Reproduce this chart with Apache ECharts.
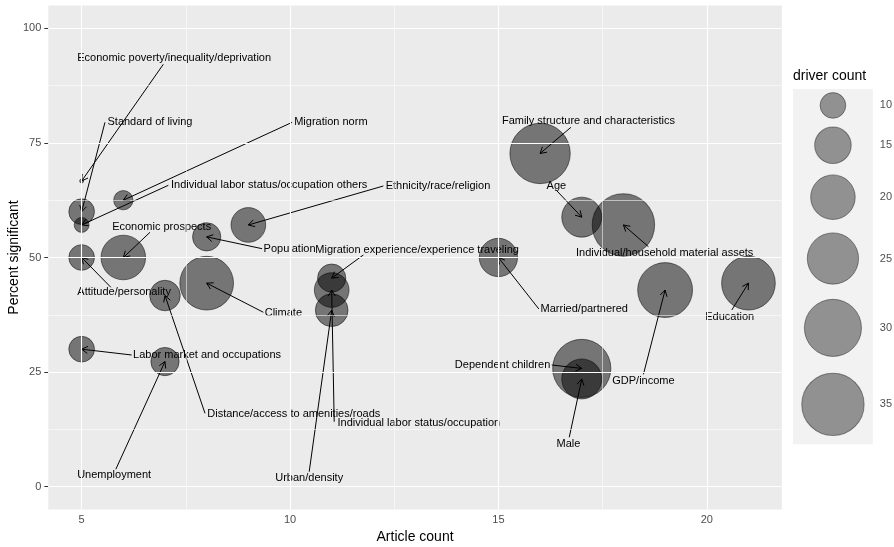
<!DOCTYPE html>
<html>
<head>
<meta charset="utf-8">
<script src="https://cdn.jsdelivr.net/npm/echarts@6.0.0/dist/echarts.min.js"></script>
<style>
  html, body { margin: 0; padding: 0; background: #ffffff; }
  #chart { width: 894px; height: 547px; }
</style>
</head>
<body>
<div id="chart"></div>
<script>
// Migration drivers: how many articles studied each driver, the share of
// findings that were significant, and how many driver estimates there were.
const drivers = [
  'Economic poverty/inequality/deprivation', 'Standard of living',
  'Individual labor status/occupation others', 'Migration norm',
  'Economic prospects', 'Population', 'Ethnicity/race/religion',
  'Attitude/personality', 'Climate', 'Distance/access to amenities/roads',
  'Labor market and occupations', 'Unemployment',
  'Migration experience/experience traveling',
  'Individual labor status/occupation', 'Urban/density', 'Married/partnered',
  'Family structure and characteristics', 'Age', 'Dependent children', 'Male',
  'Individual/household material assets', 'GDP/income', 'Education'
];
const articleCount = [5, 5, 5, 6, 6, 8, 9, 5, 8, 7, 5, 7, 11, 11, 11, 15, 16, 17, 17, 17, 18, 19, 21];
const percentSignificant = [66.7, 60.0, 57.1, 62.5, 50.0, 54.5, 57.1, 50.0, 44.4, 41.7, 30.0, 27.3,
  45.5, 42.9, 38.5, 50.0, 72.7, 58.8, 25.8, 23.5, 57.1, 42.9, 44.4];
const driverCount = [6, 10, 7, 8, 20, 11, 14, 10, 27, 12, 10, 11, 11, 14, 13, 16, 33, 17, 31, 17, 35, 28, 27];

// Tick labels and legend breaks
const xTicks = [5, 10, 15, 20];
const yTicks = [0, 25, 50, 75, 100];
const legendBreaks = [10, 15, 20, 25, 30, 35];

// Repelled label placement, in data units: text centre and where the leader starts
const labelX = [7.22, 6.64, 9.50, 10.98, 6.92, 9.99, 13.55, 6.02, 9.84, 10.09, 8.01, 5.78,
  13.05, 13.09, 10.46, 17.06, 17.16, 16.39, 15.10, 16.68, 18.99, 18.48, 20.55];
const labelY = [93.46, 79.49, 65.75, 79.49, 56.59, 51.79, 65.60, 42.54, 37.83, 15.79, 28.73, 2.55,
  51.64, 13.96, 1.83, 38.77, 79.78, 65.60, 26.55, 9.25, 51.05, 23.12, 37.09];
const leaderX = [6.96, 5.56, 7.08, 10.05, 6.64, 9.33, 12.24, 5.70, 9.36, 7.96, 6.20, 5.82,
  11.76, 11.06, 10.46, 15.97, 16.74, 16.40, 16.28, 16.70, 18.60, 18.48, 20.60];
const leaderY = [92.15, 79.49, 65.75, 79.49, 55.50, 51.92, 65.60, 43.50, 38.05, 16.01, 28.73, 3.80,
  50.55, 14.18, 3.27, 38.77, 78.40, 64.57, 26.55, 10.78, 52.36, 24.52, 38.55];

const FONT = '"Liberation Sans", Arial, Helvetica, sans-serif';

// Bubble diameter: area-style scale over the observed driver-count range
const vMin = Math.min(...driverCount);
const vMax = Math.max(...driverCount);
function sizeOf(v) {
  return 4 + 58.4 * Math.sqrt(Math.max(0, (v - vMin) / (vMax - vMin)));
}

// Minor gridlines sit halfway between major ticks
const mids = a => a.slice(1).map((v, i) => (v + a[i]) / 2);
const xMinor = mids(xTicks);
const yMinor = mids(yTicks);

// Legend keys stack with heights proportional to their symbols
const keyH = legendBreaks.map(v => 1.28 * sizeOf(v));
const keyTotal = keyH.reduce((a, b) => a + b, 0);
const keyCenters = [];
keyH.reduce((acc, h) => { keyCenters.push(acc + h / 2); return acc + h; }, 0);
const keyW = 1.28 * sizeOf(Math.max(...legendBreaks));

const bubbleData = drivers.map((d, i) => ({ name: d, value: [articleCount[i], percentSignificant[i], driverCount[i]] }));
const leaderData = drivers.map((d, i) => [articleCount[i], percentSignificant[i], leaderX[i], leaderY[i]]);
const textData = drivers.map((d, i) => ({ name: d, value: [labelX[i], labelY[i]] }));

const majorLine = { color: '#ffffff', width: 1.1, type: 'solid' };
const minorLine = { color: '#ffffff', width: 0.55, type: 'solid' };
const gridLines = [].concat(
  xMinor.map(v => ({ xAxis: v, lineStyle: minorLine })),
  yMinor.map(v => ({ yAxis: v, lineStyle: minorLine })),
  xTicks.map(v => ({ xAxis: v, lineStyle: majorLine })),
  yTicks.map(v => ({ yAxis: v, lineStyle: majorLine }))
);

const chart = echarts.init(document.getElementById('chart'), null, { renderer: 'canvas' });

chart.setOption({
  animation: false,
  backgroundColor: '#ffffff',
  textStyle: { fontFamily: FONT },
  title: {
    text: 'driver count',
    left: 793, top: 69, padding: 0,
    textStyle: { fontFamily: FONT, fontSize: 14, fontWeight: 'normal', color: '#000000' }
  },
  grid: [
    { left: 48.3, top: 5.4, width: 733.5, height: 504.2, show: true,
      backgroundColor: '#ebebeb', borderWidth: 0, containLabel: false, outerBoundsMode: 'none' },
    { left: 793, top: 89, width: keyW, height: keyTotal, show: true,
      backgroundColor: '#f2f2f2', borderWidth: 0, containLabel: false, outerBoundsMode: 'none' }
  ],
  xAxis: [
    {
      type: 'value', gridIndex: 0, min: 4.2, max: 21.8,
      name: 'Article count', nameLocation: 'middle', nameGap: 19,
      nameTextStyle: { fontFamily: FONT, fontSize: 14, color: '#000000' },
      axisLine: { show: false },
      axisTick: { show: true, length: 4, customValues: xTicks, lineStyle: { color: '#333333', width: 1 } },
      axisLabel: { customValues: xTicks, margin: 5, fontFamily: FONT, fontSize: 11, color: '#4d4d4d' },
      splitLine: { show: false }, minorSplitLine: { show: false }
    },
    { type: 'value', gridIndex: 1, min: 0, max: 1, show: false }
  ],
  yAxis: [
    {
      type: 'value', gridIndex: 0, min: -5, max: 105,
      name: 'Percent significant', nameLocation: 'middle', nameGap: 27, nameRotate: 90,
      nameMoveOverlap: false,
      nameTextStyle: { fontFamily: FONT, fontSize: 14, color: '#000000' },
      axisLine: { show: false },
      axisTick: { show: true, length: 4, customValues: yTicks, lineStyle: { color: '#333333', width: 1 } },
      axisLabel: { customValues: yTicks, margin: 7, fontFamily: FONT, fontSize: 11, color: '#4d4d4d' },
      splitLine: { show: false }, minorSplitLine: { show: false }
    },
    { type: 'value', gridIndex: 1, min: 0, max: keyTotal, inverse: true, show: false }
  ],
  series: [
    {
      // panel gridlines
      type: 'scatter', xAxisIndex: 0, yAxisIndex: 0, data: [], z: 1, silent: true,
      markLine: { silent: true, symbol: ['none', 'none'], label: { show: false },
        animation: false, data: gridLines }
    },
    {
      type: 'scatter', name: 'drivers', xAxisIndex: 0, yAxisIndex: 0, z: 2,
      data: bubbleData,
      symbol: 'circle',
      symbolSize: v => sizeOf(v[2]),
      itemStyle: { color: 'rgba(0,0,0,0.5)', borderColor: 'rgba(0,0,0,0.5)', borderWidth: 1, opacity: 1 },
      emphasis: { disabled: true }
    },
    {
      // leader segments with open arrowheads pointing at each bubble
      type: 'custom', xAxisIndex: 0, yAxisIndex: 0, z: 3, silent: true, clip: false,
      data: leaderData,
      renderItem: (params, api) => {
        const p = api.coord([api.value(0), api.value(1)]);
        const s = api.coord([api.value(2), api.value(3)]);
        const ang = Math.atan2(p[1] - s[1], p[0] - s[0]);
        const L = 7, A = Math.PI / 6;
        const h1 = [p[0] - L * Math.cos(ang - A), p[1] - L * Math.sin(ang - A)];
        const h2 = [p[0] - L * Math.cos(ang + A), p[1] - L * Math.sin(ang + A)];
        return {
          type: 'group',
          children: [
            { type: 'line', shape: { x1: s[0], y1: s[1], x2: p[0], y2: p[1] },
              style: { stroke: '#000000', lineWidth: 1 } },
            { type: 'polyline', shape: { points: [h1, p, h2] },
              style: { stroke: '#000000', fill: null, lineWidth: 1 } }
          ]
        };
      }
    },
    {
      // driver names
      type: 'custom', xAxisIndex: 0, yAxisIndex: 0, z: 4, silent: true, clip: false,
      data: textData,
      renderItem: (params, api) => {
        const c = api.coord([api.value(0), api.value(1)]);
        return {
          type: 'text', x: c[0], y: c[1],
          style: { text: drivers[params.dataIndex], fill: '#000000',
            font: '11px ' + FONT, align: 'center', verticalAlign: 'middle' }
        };
      }
    },
    {
      // size legend keys
      type: 'scatter', xAxisIndex: 1, yAxisIndex: 1, z: 2, silent: true, clip: false,
      data: legendBreaks.map((v, i) => [0.5, keyCenters[i], v]),
      symbol: 'circle',
      symbolSize: v => sizeOf(v[2]),
      itemStyle: { color: 'rgba(0,0,0,0.5)', borderColor: 'rgba(0,0,0,0.5)', borderWidth: 1 },
      label: { show: true, position: 'inside', align: 'left', offset: [keyW / 2 + 7, 0],
        formatter: p => String(p.value[2]),
        fontFamily: FONT, fontSize: 11, color: '#1a1a1a' }
    }
  ]
});
</script>
</body>
</html>
